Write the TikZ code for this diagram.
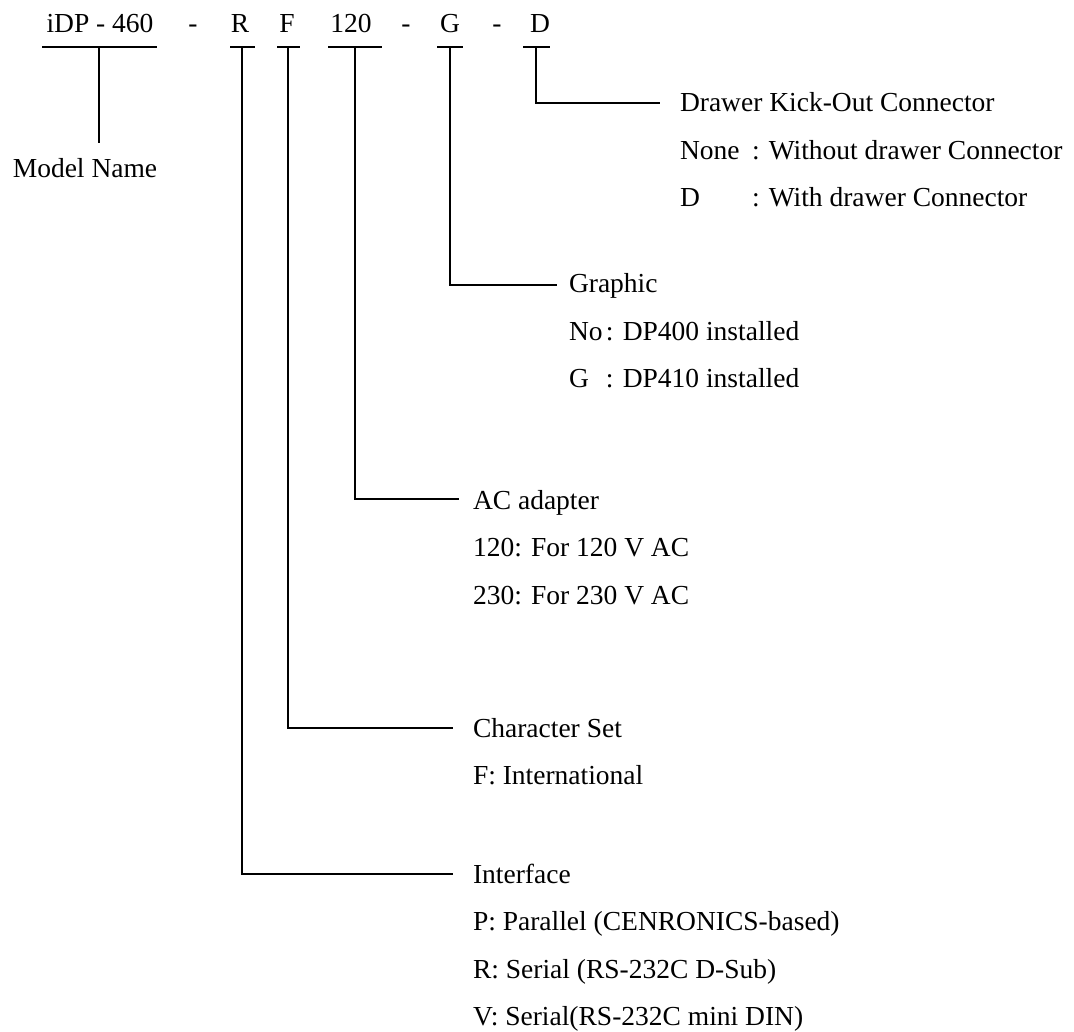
\documentclass[tikz,border=0pt]{standalone}
\usepackage{fontspec}
\setmainfont{Liberation Serif}
\begin{document}
\begin{tikzpicture}[x=1pt,y=-1pt,
  every node/.style={inner sep=0pt, outer sep=0pt, font=\fontsize{27.5}{32}\selectfont},
  code/.style={anchor=base},
  lbl/.style={anchor=base west},
  ln/.style={line width=1.7pt}]
\useasboundingbox (0,0) rectangle (1074,1032);
% top code
\node[code] (model) at (100,33) {iDP - 460};
\node[code] (dash1) at (193,33) {-};
\node[code] (cR) at (240,33) {R};
\node[code] (cF) at (287,33) {F};
\node[code] (c120) at (351,33) {120};
\node[code] (dash2) at (406,33) {-};
\node[code] (cG) at (450,33) {G};
\node[code] (dash3) at (497,33) {-};
\node[code] (cD) at (540,33) {D};
% underlines
\draw[ln] (42,47) -- (157,47);
\draw[ln] (230,47) -- (255,47);
\draw[ln] (277,47) -- (300,47);
\draw[ln] (328,47) -- (382,47);
\draw[ln] (437,47) -- (463,47);
\draw[ln] (523,47) -- (550,47);
% junction coordinates
\coordinate (tM) at (99,47);
\coordinate (tR) at (242,47);
\coordinate (tF) at (288,47);
\coordinate (t120) at (355,47);
\coordinate (tG) at (450,47);
\coordinate (tD) at (536,47);
% model name
\node[code] (mname) at (85,178) {Model Name};
\coordinate (mEnd) at (99,143);
\draw[ln] (tM) -- (mEnd);
% Drawer
\coordinate (eD) at (660,103);
\draw[ln] (tD) |- (eD);
\node[lbl] (drawer) at (680,112) {Drawer Kick-Out Connector};
\node[lbl] (dNone) at (680,159.5) {\makebox[72pt][l]{None}: Without drawer Connector};
\node[lbl] (dD) at (680,207) {\makebox[72pt][l]{D}: With drawer Connector};
% Graphic
\coordinate (eG) at (557,285);
\draw[ln] (tG) |- (eG);
\node[lbl] (graphic) at (569,293) {Graphic};
\node[lbl] (gNo) at (569,340.5) {\makebox[37pt][l]{No}: DP400 installed};
\node[lbl] (gG) at (569,388) {\makebox[37pt][l]{G}: DP410 installed};
% AC adapter
\coordinate (e120) at (459,499);
\draw[ln] (t120) |- (e120);
\node[lbl] (ac) at (473,509) {AC adapter};
\node[lbl] (ac120) at (473,556.5) {120: For 120 V AC};
\node[lbl] (ac230) at (473,604) {230: For 230 V AC};
% Character set
\coordinate (eF) at (453,728);
\draw[ln] (tF) |- (eF);
\node[lbl] (cset) at (473,737) {Character Set};
\node[lbl] (cInt) at (473,784.5) {F: International};
% Interface
\coordinate (eR) at (453,874);
\draw[ln] (tR) |- (eR);
\node[lbl] (iface) at (473,883) {Interface};
\node[lbl] (iP) at (473,930.5) {P: Parallel (CENRONICS-based)};
\node[lbl] (iR) at (473,978) {R: Serial (RS-232C D-Sub)};
\node[lbl] (iV) at (473,1025.5) {V: Serial(RS-232C mini DIN)};
\end{tikzpicture}
\end{document}
